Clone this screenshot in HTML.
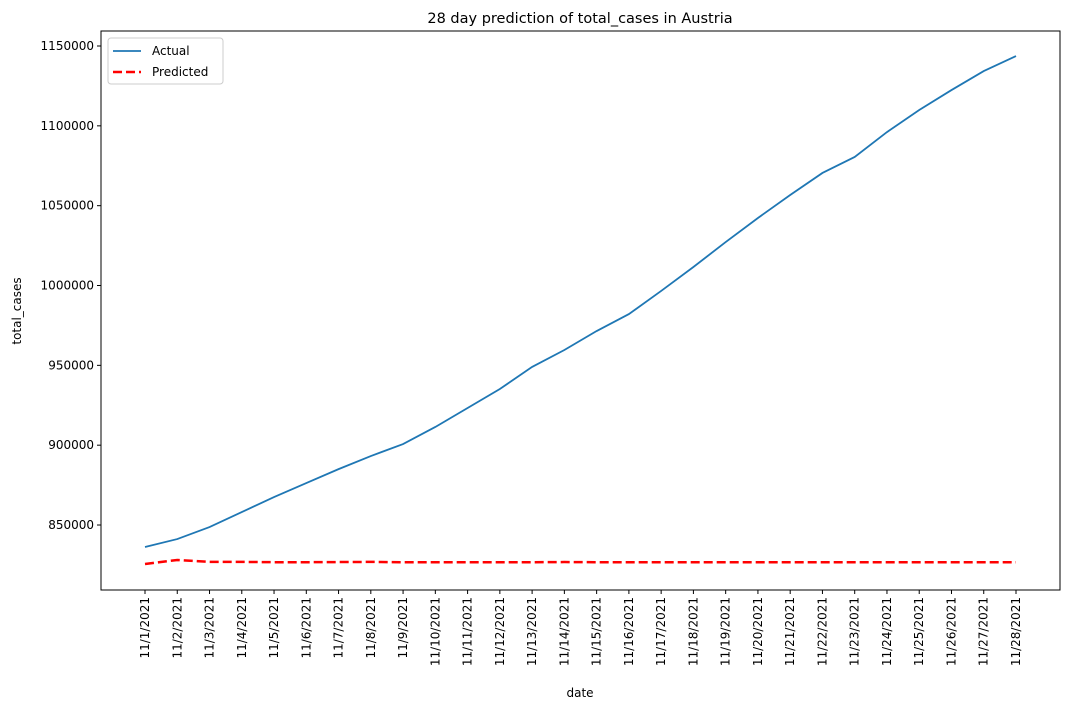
<!DOCTYPE html>
<html><head><meta charset="utf-8"><style>
body{margin:0;background:#fff;font-family:"Liberation Sans","DejaVu Sans",sans-serif;}
</style></head><body>
<svg id="chart" width="1070" height="709" xmlns="http://www.w3.org/2000/svg" font-family="'DejaVu Sans','Liberation Sans',sans-serif"></svg>
<script>
const dates=["11/1/2021","11/2/2021","11/3/2021","11/4/2021","11/5/2021","11/6/2021","11/7/2021","11/8/2021","11/9/2021","11/10/2021","11/11/2021","11/12/2021","11/13/2021","11/14/2021","11/15/2021","11/16/2021","11/17/2021","11/18/2021","11/19/2021","11/20/2021","11/21/2021","11/22/2021","11/23/2021","11/24/2021","11/25/2021","11/26/2021","11/27/2021","11/28/2021"];
const actual=[836200,841200,848700,858100,867500,876300,885000,893200,900700,911400,923300,935200,949000,959600,971500,982100,996600,1011600,1027200,1042300,1056700,1070500,1080500,1096100,1109900,1122400,1134300,1143700];
const predicted=[825600,828100,826900,826900,826700,826700,826800,826900,826700,826700,826700,826700,826700,826800,826700,826700,826700,826700,826700,826700,826700,826700,826700,826700,826700,826700,826700,826700];
const yTicks=[850000,900000,950000,1000000,1050000,1100000,1150000];
const NS="http://www.w3.org/2000/svg",svg=document.getElementById('chart');
const L=101,R=1060,T=31,B=590,yMin=809300,yMax=1159400;
const x=i=>145+i*(1016-145)/27;
const y=v=>B-(v-yMin)/(yMax-yMin)*(B-T);
function mk(t,a,p){const e=document.createElementNS(NS,t);for(const k in a)e.setAttribute(k,a[k]);(p||svg).appendChild(e);return e;}
let e=mk('rect',{x:L,y:T,width:R-L,height:B-T,fill:'none',stroke:'#000','stroke-width':1});


yTicks.forEach(v=>{mk('line',{x1:L-4,x2:L,y1:y(v),y2:y(v),stroke:'#000'});
 e=mk('text',{x:L-7,y:y(v)+4,'text-anchor':'end','font-size':12});e.textContent=v;
 
 });
dates.forEach((d,i)=>{mk('line',{x1:x(i),x2:x(i),y1:B,y2:B+4,stroke:'#000'});
 e=mk('text',{x:0,y:0,transform:`translate(${x(i)+4},${B+7}) rotate(-90)`,'text-anchor':'end','font-size':12});e.textContent=d;
 
 });
e=mk('polyline',{points:actual.map((v,i)=>x(i)+','+y(v)).join(' '),fill:'none',stroke:'#1f77b4','stroke-width':1.8});


e=mk('polyline',{points:predicted.map((v,i)=>x(i)+','+y(v)).join(' '),fill:'none',stroke:'#ff0000','stroke-width':2.5,'stroke-dasharray':'9,4'});


e=mk('text',{x:580,y:23,'text-anchor':'middle','font-size':14.5});e.textContent='28 day prediction of total_cases in Austria';


e=mk('text',{x:580,y:697,'text-anchor':'middle','font-size':12});e.textContent='date';


e=mk('text',{x:0,y:0,transform:'translate(21,311) rotate(-90)','text-anchor':'middle','font-size':12});e.textContent='total_cases';


const g=mk('g',{});


mk('rect',{x:108,y:38,width:115,height:46,rx:3,fill:'#fff',stroke:'#ccc'},g);
mk('line',{x1:113,x2:141,y1:51,y2:51,stroke:'#1f77b4','stroke-width':1.8},g);
e=mk('text',{x:152,y:55,'font-size':12},g);e.textContent='Actual';


mk('line',{x1:113,x2:141,y1:72,y2:72,stroke:'#ff0000','stroke-width':2.5,'stroke-dasharray':'9,4'},g);
e=mk('text',{x:152,y:76,'font-size':12},g);e.textContent='Predicted';


</script>
</body></html>
